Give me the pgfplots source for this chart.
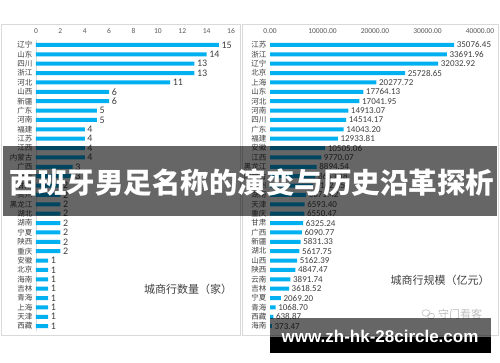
\documentclass[border=0pt]{standalone}
\usepackage{fontspec}
\setmainfont{Carlito}
\newfontfamily\cjk{Noto Sans CJK SC}
\newfontfamily\urlfont{Liberation Sans}
\usepackage{pgfplots}
\pgfplotsset{compat=1.18}
\definecolor{barblue}{HTML}{00B0F0}
\definecolor{lbl}{HTML}{404040}
\definecolor{tck}{HTML}{595959}
\definecolor{frame}{HTML}{D9D9D9}
\pgfplotsset{
  mybars/.style={
    scale only axis, height=290.5pt,
    ymin=-0.5, ymax=30.5, y dir=reverse, enlargelimits=false,
    xbar, bar width=4pt,
    axis x line*=top, axis y line*=left,
    x axis line style={draw=none},
    major tick length=0pt,
    scaled x ticks=false,
    ytick={0,...,30},
    xticklabel style={font=\fontsize{7.5}{8}\selectfont, text=tck, yshift=3pt},
    yticklabel style={font=\cjk\fontsize{7.5}{8}\selectfont, text=lbl},
    point meta=explicit symbolic,
    nodes near coords,
    nodes near coords align=horizontal,
  }
}
\begin{document}
\begin{tikzpicture}
\fill[white] (0pt,0pt) rectangle (500pt,-362pt);
\path[use as bounding box] (0pt,0pt) rectangle (500pt,-362pt);
\draw[frame, line width=0.8pt] (1pt,-24pt) rectangle (240pt,-335pt);
\draw[frame, line width=0.8pt] (242.5pt,-24pt) rectangle (498pt,-335pt);

\begin{axis}[mybars,
  at={(36pt,-330.8pt)}, anchor=south west, width=195pt,
  xmin=0, xmax=16, xtick={0,2,...,16}, xticklabels={0,2,4,6,8,10,12,14,16},
  y axis line style={draw=frame, line width=0.8pt},
  yticklabels={辽宁,山东,四川,浙江,河北,山西,新疆,广东,河南,福建,江苏,江西,内蒙古,广西,云南,甘肃,贵州,黑龙江,湖北,湖南,宁夏,陕西,重庆,安徽,北京,海南,吉林,青海,上海,天津,西藏},
  nodes near coords style={font=\fontsize{10}{11}\selectfont, text=lbl, anchor=west, inner sep=2.5pt},
]
\addplot[fill=barblue, draw=none] coordinates {
(15,0) [15] (14,1) [14] (13,2) [13] (13,3) [13] (11,4) [11]
(6,5) [6] (6,6) [6] (5,7) [5] (5,8) [5] (4,9) [4]
(4,10) [4] (4,11) [4] (4,12) [4] (3,13) [3] (3,14) [3]
(2,15) [2] (2,16) [2] (2,17) [2] (2,18) [2] (2,19) [2]
(2,20) [2] (2,21) [2] (2,22) [2] (1,23) [1] (1,24) [1]
(1,25) [1] (1,26) [1] (1,27) [1] (1,28) [1] (1,29) [1] (1,30) [1]
};
\end{axis}

\begin{axis}[mybars,
  at={(270pt,-330.8pt)}, anchor=south west, width=210pt,
  xmin=0, xmax=40000, xtick={0,10000,...,40000},
  xticklabels={0.00,10000.00,20000.00,30000.00,40000.00},
  y axis line style={draw=none},
  yticklabels={江苏,浙江,辽宁,北京,上海,山东,河北,河南,四川,广东,福建,安徽,江西,黑龙江,内蒙古,贵州,湖南,天津,重庆,甘肃,广西,新疆,湖北,山西,陕西,云南,吉林,宁夏,青海,西藏,海南},
  nodes near coords style={font=\fontsize{9}{10}\selectfont, text=lbl, anchor=west, inner sep=2.5pt},
]
\addplot[fill=barblue, draw=none] coordinates {
(35076.45,0) [35076.45] (33691.96,1) [33691.96] (32032.92,2) [32032.92]
(25728.65,3) [25728.65] (20277.72,4) [20277.72] (17764.13,5) [17764.13]
(17041.95,6) [17041.95] (14913.07,7) [14913.07] (14514.17,8) [14514.17]
(14043.20,9) [14043.20] (12933.81,10) [12933.81] (10505.06,11) [10505.06]
(9770.07,12) [9770.07] (8894.54,13) [8894.54] (8653.18,14) [8653.18]
(8162.35,15) [8162.35] (6871.42,16) [6871.42] (6593.40,17) [6593.40]
(6550.47,18) [6550.47] (6325.24,19) [6325.24] (6090.77,20) [6090.77]
(5831.33,21) [5831.33] (5617.75,22) [5617.75] (5162.39,23) [5162.39]
(4847.47,24) [4847.47] (3891.74,25) [3891.74] (3618.52,26) [3618.52]
(2069.20,27) [2069.20] (1068.70,28) [1068.70] (638.87,29) [638.87]
(373.47,30) [373.47]
};
\end{axis}

\node[font=\cjk\fontsize{11}{12}\selectfont, text=lbl] at (188pt,-289pt) {城商行数量（家）};
\node[font=\cjk\fontsize{11}{12}\selectfont, text=lbl] at (440pt,-280pt) {城商行规模（亿元）};
\node[font=\cjk\fontsize{11}{12}\selectfont, text=black!25] at (460pt,-314pt) {守门看客};
\draw[black!25, line width=0.6pt] (426pt,-313pt) ellipse (4pt and 3.3pt);
\draw[black!25, line width=0.6pt] (431pt,-316pt) ellipse (3.5pt and 2.8pt);

\fill[black, opacity=0.6] (3pt,-145.7pt) rectangle (497pt,-215.7pt);
\node[font=\cjk\bfseries\fontsize{28.5}{30}\selectfont, text=white, inner sep=0pt] at (252pt,-183pt) {西班牙男足名称的演变与历史沿革探析};

\fill[black, opacity=0.6] (270pt,-318pt) rectangle (491pt,-336.7pt);
\fill[black] (270pt,-336.7pt) rectangle (491pt,-352.7pt);
\node[font=\urlfont\bfseries\fontsize{17}{18}\selectfont, text=white, inner sep=0pt] at (380pt,-336pt) {www.zh-hk-28circle.com};
\end{tikzpicture}
\end{document}
